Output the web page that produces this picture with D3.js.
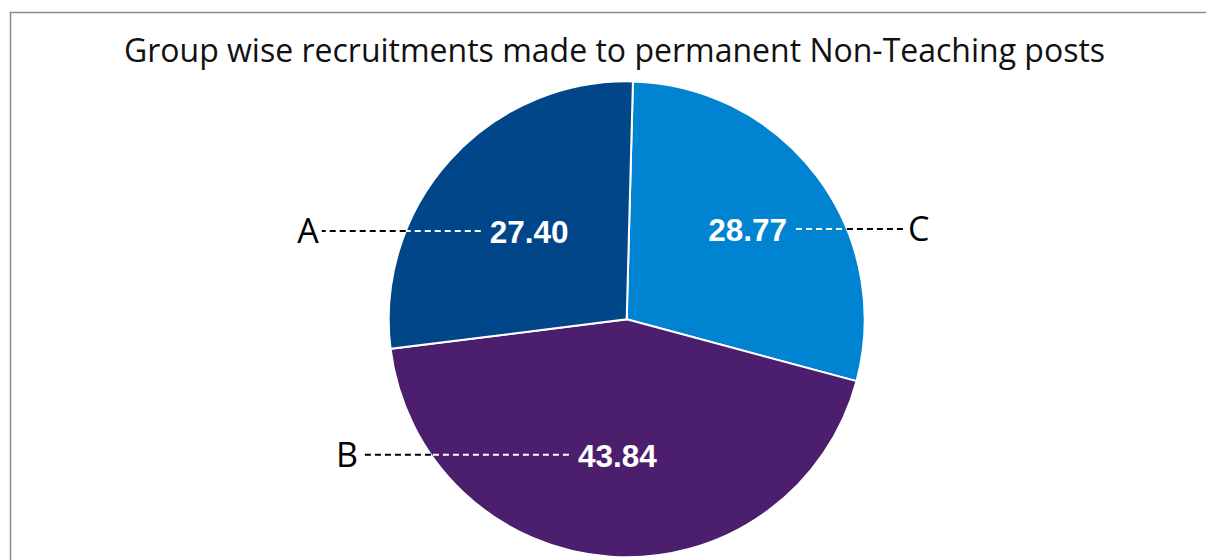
<!DOCTYPE html>
<html>
<head>
<meta charset="utf-8">
<script src="https://cdnjs.cloudflare.com/ajax/libs/d3/7.8.5/d3.min.js"></script>
<style>
  body { margin: 0; background: #fff; }
  svg { display: block; }
</style>
</head>
<body>
<svg width="1206" height="560"></svg>
<script>
// chart data
var title = "Group wise recruitments made to permanent Non-Teaching posts";
var categories = ["C", "B", "A"];
var values = [28.77, 43.84, 27.40];
var colors = ["#0083d1", "#4b1f6e", "#02468a"];

// label layout: radius of the value label (fraction of pie radius)
// and how far the dashed leader runs past the pie edge
var labelRadius = { A: 0.553, B: 0.57, C: 0.634 };
var leaderOut = { A: 84, B: 70, C: 58 };

var svg = d3.select("svg"),
  width = +svg.attr("width"),
  height = +svg.attr("height");

var cx = 626.7, cy = 319.3, radius = 238;

// chart frame (only top and left edges are visible)
svg.append("rect")
  .attr("x", 10.5)
  .attr("y", 12.5)
  .attr("width", width + 20)
  .attr("height", height + 20)
  .attr("fill", "none")
  .attr("stroke", "#8c8c8c")
  .attr("stroke-width", 1.5);

svg.append("text")
  .attr("x", 614.5)
  .attr("y", 62)
  .attr("text-anchor", "middle")
  .attr("font-family", "Open Sans, sans-serif")
  .attr("font-size", 32)
  .attr("fill", "#111")
  .text(title);

var data = categories.map(function (c, i) {
  return { cat: c, value: values[i], color: colors[i] };
});

var pie = d3.pie()
  .sort(null)
  .value(function (d) { return d.value; })
  .startAngle(1.5 * Math.PI / 180)
  .endAngle(1.5 * Math.PI / 180 + 2 * Math.PI);

var arc = d3.arc().innerRadius(0).outerRadius(radius);

var g = svg.append("g")
  .attr("transform", "translate(" + cx + "," + cy + ")");

var arcs = pie(data);

g.selectAll("path")
  .data(arcs)
  .enter().append("path")
  .attr("d", arc)
  .attr("fill", function (d) { return d.data.color; })
  .attr("stroke", "#fff")
  .attr("stroke-width", 2);

var valueFont = 31.5;

arcs.forEach(function (d) {
  var r = radius * labelRadius[d.data.cat];
  var c = d3.arc().innerRadius(r).outerRadius(r).centroid(d);
  var lx = c[0], ly = c[1];
  var left = lx < 0;
  var side = left ? -1 : 1;

  var label = g.append("text")
    .attr("x", lx)
    .attr("y", ly)
    .attr("dy", "0.38em")
    .attr("text-anchor", "middle")
    .attr("font-family", "Liberation Sans, Arial, sans-serif")
    .attr("font-weight", "bold")
    .attr("font-size", valueFont)
    .attr("fill", "#fff")
    .text(d.data.value.toFixed(2));

  var halfW = label.node().getComputedTextLength() / 2;
  var start = lx + side * (halfW + 9);
  var edge = side * Math.sqrt(radius * radius - ly * ly);
  var end = edge + side * leaderOut[d.data.cat];

  // white part inside the slice
  g.append("line")
    .attr("x1", start).attr("y1", ly)
    .attr("x2", edge).attr("y2", ly)
    .attr("stroke", "#fff")
    .attr("stroke-width", 2)
    .attr("stroke-dasharray", "6,4");

  // black part outside the pie
  g.append("line")
    .attr("x1", edge).attr("y1", ly)
    .attr("x2", end).attr("y2", ly)
    .attr("stroke", "#000")
    .attr("stroke-width", 2)
    .attr("stroke-dasharray", "6,4");

  g.append("text")
    .attr("x", end + side * 3)
    .attr("y", ly)
    .attr("dy", "0.36em")
    .attr("text-anchor", left ? "end" : "start")
    .attr("font-family", "Open Sans, sans-serif")
    .attr("font-size", 34)
    .attr("fill", "#000")
    .text(d.data.cat);
});
</script>
</body>
</html>
